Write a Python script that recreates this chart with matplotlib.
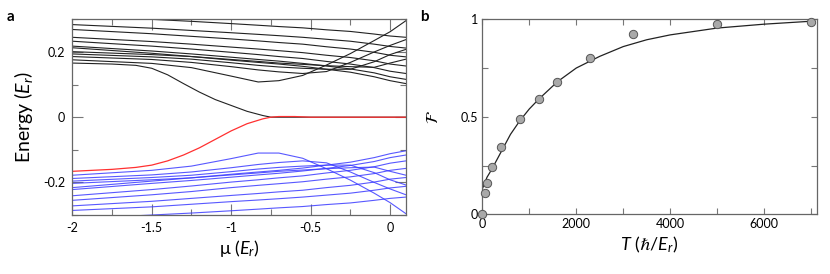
import matplotlib
matplotlib.use("Agg")
import matplotlib.pyplot as plt
from matplotlib.ticker import MultipleLocator

plt.rcParams['font.family'] = ['Lato', 'DejaVu Sans']
plt.rcParams['mathtext.fontset'] = 'custom'
plt.rcParams['mathtext.rm'] = 'Lato'
plt.rcParams['mathtext.it'] = 'Lato:italic'
plt.rcParams['mathtext.fallback'] = 'stix'

# panel a: zero-energy edge modes (fine mu grid, they bend a lot)
mu_edge = [-2.0, -1.75, -1.6, -1.5, -1.4, -1.3, -1.2, -1.1, -1.0, -0.9, -0.8, -0.75, -0.7, -0.6, -0.5, 0.1]
edge_upper = [0.166, 0.163, 0.159, 0.150, 0.130, 0.103, 0.077, 0.054, 0.036, 0.018, 0.005, 0.0, 0.0, 0.0, 0.0, 0.0]
edge_lower = [-0.166, -0.160, -0.154, -0.147, -0.134, -0.116, -0.094, -0.068, -0.042, -0.020, -0.005, 0.0, 0.002, 0.002, 0.0, 0.0]

# bulk bands
mu = [-2.0, -1.5, -1.25, -1.0, -0.83, -0.7, -0.55, -0.4, -0.25, -0.1, 0.0, 0.1]

bands_upper = [
    [0.176, 0.165, 0.152, 0.126, 0.108, 0.112, 0.128, 0.160, 0.195, 0.235, 0.262, 0.296],
    [0.186, 0.177, 0.168, 0.155, 0.145, 0.139, 0.134, 0.140, 0.168, 0.200, 0.220, 0.238],
    [0.194, 0.185, 0.178, 0.167, 0.159, 0.154, 0.150, 0.147, 0.147, 0.170, 0.192, 0.208],
    [0.201, 0.192, 0.186, 0.177, 0.171, 0.166, 0.162, 0.158, 0.155, 0.153, 0.166, 0.178],
    [0.213, 0.196, 0.186, 0.175, 0.168, 0.163, 0.156, 0.147, 0.138, 0.124, 0.112, 0.103],
    [0.218, 0.203, 0.194, 0.184, 0.177, 0.172, 0.165, 0.157, 0.148, 0.136, 0.124, 0.116],
    [0.233, 0.218, 0.209, 0.199, 0.192, 0.186, 0.180, 0.171, 0.163, 0.152, 0.141, 0.134],
    [0.245, 0.232, 0.224, 0.215, 0.209, 0.204, 0.198, 0.190, 0.183, 0.173, 0.163, 0.157],
    [0.269, 0.256, 0.248, 0.240, 0.234, 0.229, 0.224, 0.216, 0.209, 0.199, 0.190, 0.185],
    [0.284, 0.273, 0.266, 0.259, 0.254, 0.250, 0.245, 0.239, 0.233, 0.224, 0.217, 0.212],
    [0.310, 0.300, 0.294, 0.287, 0.282, 0.278, 0.274, 0.268, 0.263, 0.255, 0.249, 0.245],
]

bands_lower = [
    [-0.178, -0.163, -0.150, -0.127, -0.110, -0.110, -0.126, -0.158, -0.193, -0.233, -0.262, -0.296],
    [-0.188, -0.177, -0.168, -0.155, -0.145, -0.139, -0.134, -0.140, -0.168, -0.200, -0.220, -0.238],
    [-0.196, -0.185, -0.178, -0.167, -0.159, -0.154, -0.150, -0.147, -0.147, -0.170, -0.192, -0.208],
    [-0.203, -0.192, -0.186, -0.177, -0.171, -0.166, -0.162, -0.158, -0.155, -0.153, -0.166, -0.178],
    [-0.216, -0.196, -0.186, -0.175, -0.168, -0.163, -0.156, -0.147, -0.138, -0.124, -0.112, -0.103],
    [-0.222, -0.203, -0.194, -0.184, -0.177, -0.172, -0.165, -0.157, -0.148, -0.136, -0.124, -0.116],
    [-0.241, -0.222, -0.211, -0.199, -0.192, -0.186, -0.180, -0.171, -0.163, -0.152, -0.141, -0.134],
    [-0.255, -0.238, -0.228, -0.216, -0.209, -0.204, -0.198, -0.190, -0.183, -0.173, -0.163, -0.157],
    [-0.272, -0.258, -0.249, -0.240, -0.234, -0.229, -0.224, -0.216, -0.209, -0.199, -0.190, -0.185],
    [-0.286, -0.275, -0.267, -0.259, -0.254, -0.250, -0.245, -0.239, -0.233, -0.224, -0.217, -0.212],
    [-0.312, -0.300, -0.294, -0.287, -0.282, -0.278, -0.274, -0.268, -0.263, -0.255, -0.249, -0.245],
]

# panel b: fidelity vs ramp time
T_data = [0, 50, 100, 200, 400, 800, 1200, 1600, 2300, 3200, 5000, 7000]
F_data = [0.0, 0.108, 0.162, 0.244, 0.344, 0.489, 0.591, 0.68, 0.80, 0.923, 0.974, 0.985]

T_fit = [0, 100, 200, 400, 600, 800, 1000, 1200, 1600, 2000, 2500, 3000, 3500, 4000, 5000, 6000, 7000]
F_fit = [0.13, 0.19, 0.23, 0.32, 0.41, 0.48, 0.54, 0.59, 0.68, 0.75, 0.81, 0.86, 0.895, 0.92, 0.955, 0.975, 0.99]

frame_col = '#666666'
tick_col = '#777777'

fig = plt.figure(figsize=(8.3, 2.74), dpi=100)
ax1 = fig.add_axes([0.0871, 0.2153, 0.402, 0.714])
ax2 = fig.add_axes([0.5811, 0.2179, 0.4029, 0.7117])

for band in bands_lower:
    ax1.plot(mu, band, color='#3b3bff', lw=0.8, alpha=0.85)
for band in bands_upper:
    ax1.plot(mu, band, color='#222222', lw=0.8)
ax1.plot(mu_edge, edge_upper, color='#222222', lw=0.8)
ax1.plot(mu_edge, edge_lower, color='#ff3030', lw=0.9)

ax1.set_xlim(-2, 0.1)
ax1.set_ylim(-0.3, 0.3)
ax1.xaxis.set_minor_locator(MultipleLocator(0.25))
ax1.yaxis.set_minor_locator(MultipleLocator(0.1))
ax1.set_xticks([-2, -1.5, -1, -0.5, 0])
ax1.set_xticklabels(['-2', '-1.5', '-1', '-0.5', '0'])
ax1.set_yticks([-0.2, 0, 0.2])
ax1.set_yticklabels(['-0.2', '0', '0.2'])
ax1.set_xlabel(r'μ ($E_r$)', fontsize=13, labelpad=3)
ax1.set_ylabel(r'Energy ($E_r$)', fontsize=14, labelpad=6)
ax1.tick_params(which='major', direction='in', length=8, width=0.8, color=tick_col,
                top=True, right=True, labelsize=9, pad=5)
ax1.tick_params(which='minor', direction='in', length=4, width=0.8, color=tick_col,
                top=True, right=True)

ax2.plot(T_fit, F_fit, color='#222222', lw=0.9)
ax2.scatter(T_data, F_data, s=36, color='#a9a9a9', edgecolor='#555555', linewidth=0.7, zorder=3, clip_on=False)
ax2.set_xlim(0, 7120)
ax2.set_ylim(0, 1)
ax2.set_xticks([0, 2000, 4000, 6000])
ax2.xaxis.set_minor_locator(MultipleLocator(1000))
ax2.set_yticks([0, 0.5, 1])
ax2.set_yticklabels(['0', '0.5', '1'])
ax2.yaxis.set_minor_locator(MultipleLocator(0.25))
ax2.set_xlabel(r'$T$ ($ℏ/E_r$)', fontsize=13, labelpad=3)
ax2.set_ylabel(r'$\mathcal{F}$', fontsize=12, math_fontfamily='stix', labelpad=14)
ax2.tick_params(which='both', direction='in', length=4, width=0.8, color=tick_col,
                top=True, right=True, labelsize=9, pad=3)

for ax in (ax1, ax2):
    for s in ax.spines.values():
        s.set_color(frame_col)
        s.set_linewidth(0.9)

fig.text(0.008, 0.925, 'a', fontsize=11, fontweight='bold')
fig.text(0.506, 0.925, 'b', fontsize=11, fontweight='bold')

fig.savefig('out.png', dpi=100)
